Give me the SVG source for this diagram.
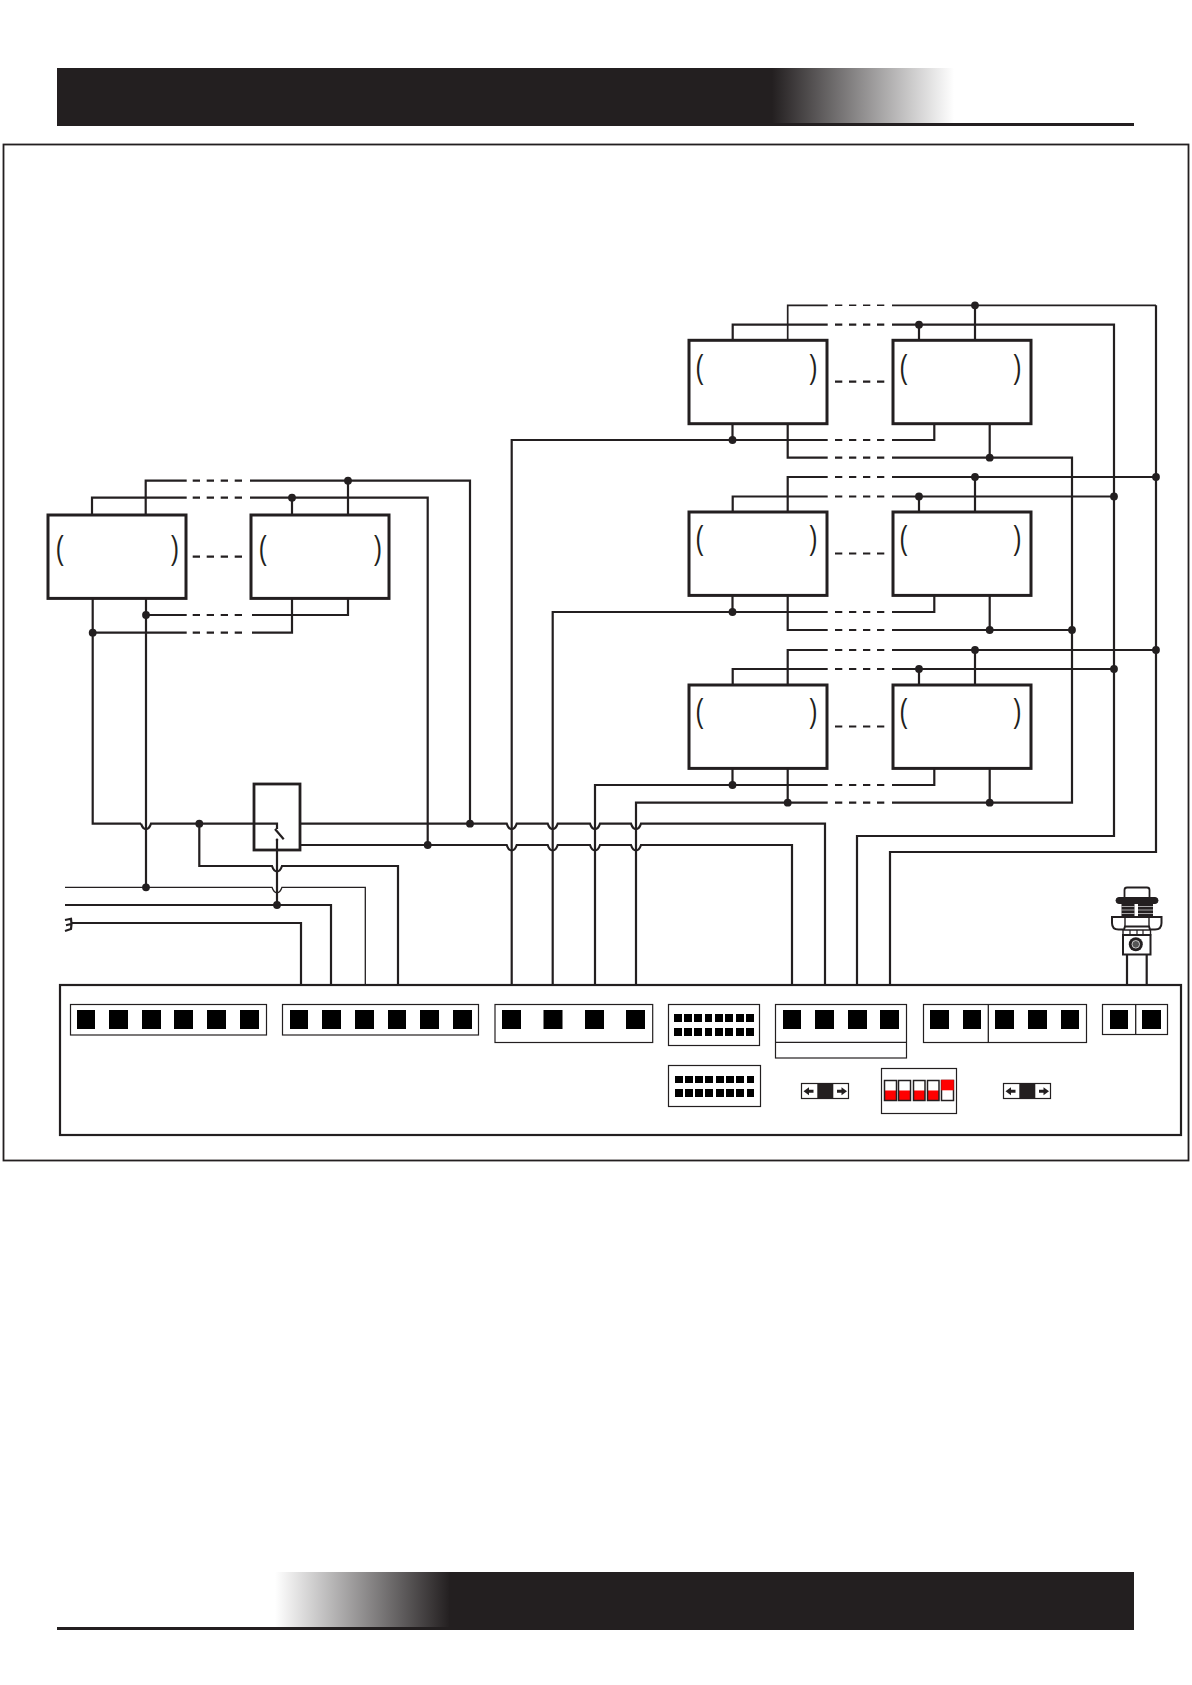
<svg xmlns="http://www.w3.org/2000/svg" width="1192" height="1685" viewBox="0 0 1192 1685">
<style>
.w{fill:none;stroke:#231f20;stroke-width:2.2}
.t{fill:none;stroke:#231f20;stroke-width:1.3}
.m{fill:none;stroke:#231f20;stroke-width:1.7}
.d{fill:none;stroke:#231f20;stroke-width:2.2;stroke-dasharray:7.3 6.7}
.dt{fill:none;stroke:#231f20;stroke-width:1.5;stroke-dasharray:7.3 6.7}
.j{fill:#231f20}
.box{fill:#fff;stroke:#231f20;stroke-width:3}
.blk{fill:#fff;stroke:#231f20;stroke-width:1.2}
.sq{fill:#000}
.p{font-family:"Liberation Sans",Arial,sans-serif;font-size:34px;fill:#231f20}
.red{fill:#ff0000}
.dip{fill:none;stroke:#231f20;stroke-width:1.500}
</style>
<defs>
<linearGradient id="g1" x1="0" x2="1" y1="0" y2="0"><stop offset="0" stop-color="#231f20"/><stop offset="1" stop-color="#fff"/></linearGradient>
<linearGradient id="g2" x1="0" x2="1" y1="0" y2="0"><stop offset="0" stop-color="#fff"/><stop offset="1" stop-color="#231f20"/></linearGradient>
<circle id="dot" r="3.900" class="j"/>
<g id="modA">
<rect x="0" y="0" width="138" height="83.400" class="box"/>
<text class="p" transform="translate(6.500 37.200) scale(.7 1)">(</text>
<text class="p" transform="translate(120.500 37.200) scale(.7 1)">)</text>
</g>
<g id="modB">
<rect x="0" y="0" width="138" height="83.400" class="box"/>
<text class="p" transform="translate(7.800 43.500) scale(.7 1)">(</text>
<text class="p" transform="translate(123 43.500) scale(.7 1)">)</text>
</g>
<g id="arrows">
<path class="j" d="M2 7.700L7.500 3.700V6.200H12V9.200H7.500V11.700Z"/>
<path class="j" d="M45.500 7.700L40 3.700V6.200H35.500V9.200H40V11.700Z"/>
</g>
</defs>
<rect width="1192" height="1685" fill="#fff"/>
<g id="header">
<rect x="57" y="68" width="716" height="58" fill="#231f20"/>
<rect x="772" y="68" width="182" height="55" fill="url(#g1)"/>
<rect x="772" y="123" width="362" height="3" fill="#231f20"/>
</g>
<g id="footer">
<rect x="275" y="1572" width="175" height="55" fill="url(#g2)"/>
<rect x="57" y="1627" width="393" height="3" fill="#231f20"/>
<rect x="449" y="1572" width="685" height="58" fill="#231f20"/>
</g>
<rect id="frame" x="3.500" y="144.500" width="1185" height="1016" fill="none" stroke="#231f20" stroke-width="1.800"/>
<g id="connectors">
<!-- left group -->
<path class="w" d="M145.700 515V480.700H186.700M250 480.700H470V823.700M348 480.700V515"/>
<path class="w" d="M92 515V497.700H186.700M250 497.700H427.700V845M292 497.700V515"/>
<path class="w" d="M146 598V887.300M146 615H186.700M252 615H348V598"/>
<path class="w" d="M92.700 598V823.700H141M92.700 632.700H186.700M252 632.700H292V598"/>
<path class="d" d="M192.700 480.700H244M192.700 497.700H244M192.700 556.700H244M192.700 615H244M192.700 632.700H244"/>
<!-- switch feed -->
<path class="w" d="M141 823.700c1 3 3 5.500 5 5.500s4-2.500 5-5.500H277V829M277 840V905"/>
<path class="w" d="M275 829L283.700 839.300"/>
<path class="w" d="M199.300 823.700V866H272c1 3 3 5.500 5 5.500s4-2.500 5-5.500H398V985"/>
<path class="t" d="M65 887.300H272c1 3 3 5.500 5 5.500s4-2.500 5-5.500H365.300V985"/>
<path class="w" d="M65 905H331V985"/>
<path class="w" d="M71.500 923H301V985"/>
<path class="w" d="M65 920L71 918.700Q72 924 71 929L65 931M66 925.300L71 924"/>
<!-- main bus -->
<path class="w" d="M300 823.700H506.700c1 3 3 5.500 5 5.500s4-2.500 5-5.500H547.700c1 3 3 5.500 5 5.500s4-2.500 5-5.500H590c1 3 3 5.500 5 5.500s4-2.500 5-5.500H631c1 3 3 5.500 5 5.500s4-2.500 5-5.500H825V985"/>
<path class="w" d="M300 845H506.700c1 3 3 5.500 5 5.500s4-2.500 5-5.500H547.700c1 3 3 5.500 5 5.500s4-2.500 5-5.500H590c1 3 3 5.500 5 5.500s4-2.500 5-5.500H631c1 3 3 5.500 5 5.500s4-2.500 5-5.500H792V985"/>
<path class="w" d="M511.700 985V440H827.700M892 440H934.300V424"/>
<path class="w" d="M552.700 985V612H827.700M892 612H934.300V596"/>
<path class="w" d="M595 985V785H827.700M892 785H934.300V769"/>
<path class="w" d="M636 985V802.700H827.700M892 802.700H1072V457.700H892M827.700 457.700H787.700V424"/>
<path class="w" d="M787.700 596V630H827.700M892 630H1072"/>
<path class="w" d="M787.700 769V802.700"/>
<path class="w" d="M732.500 424V440M732.500 596V612M732.500 769V785"/>
<path class="w" d="M989.700 424V457.700M989.700 596V630M989.700 769V802.700"/>
<!-- top pairs -->
<path class="m" d="M787.700 340V305.300H827.700M892 305.300H1156"/>
<path class="w" d="M1156 305.300V852H890V985"/>
<path class="w" d="M732.700 340V324.700H827.700M892 324.700H1114V836H857V985"/>
<path class="w" d="M975 340V305.300M919 340V324.700"/>
<path class="w" d="M787.700 512V477H827.700M892 477H1156"/>
<path class="w" d="M732.700 512V496.500H827.700M892 496.500H1114"/>
<path class="w" d="M975 512V477M919 512V496.500"/>
<path class="w" d="M787.700 685V650H827.700M892 650H1156"/>
<path class="w" d="M732.700 685V669H827.700M892 669H1114"/>
<path class="w" d="M975 685V650M919 685V669"/>
<path class="dt" d="M835 305.300H885"/>
<path class="d" d="M835 324.700H885M835 381.700H885M835 440H885M835 457.700H885M835 477H885M835 496.500H885M835 553.500H885M835 612H885M835 630H885M835 650H885M835 669H885M835 726.500H885M835 785H885M835 802.700H885"/>
<!-- sensor leads -->
<path class="w" d="M1127 954V985M1146.700 954V985"/>
<!-- junctions -->
<use href="#dot" x="348" y="480.700"/><use href="#dot" x="292" y="497.700"/>
<use href="#dot" x="146" y="615"/><use href="#dot" x="92.700" y="632.700"/>
<use href="#dot" x="199.300" y="823.700"/><use href="#dot" x="146" y="887.300"/><use href="#dot" x="277" y="905"/>
<use href="#dot" x="427.700" y="845"/><use href="#dot" x="470" y="823.700"/>
<use href="#dot" x="975" y="305.300"/><use href="#dot" x="919" y="324.700"/>
<use href="#dot" x="732.500" y="440"/><use href="#dot" x="989.700" y="457.700"/>
<use href="#dot" x="975" y="477"/><use href="#dot" x="919" y="496.500"/><use href="#dot" x="1156" y="477"/><use href="#dot" x="1114" y="496.500"/>
<use href="#dot" x="732.500" y="612"/><use href="#dot" x="989.700" y="630"/><use href="#dot" x="1072" y="630"/>
<use href="#dot" x="975" y="650"/><use href="#dot" x="919" y="669"/><use href="#dot" x="1156" y="650"/><use href="#dot" x="1114" y="669"/>
<use href="#dot" x="732.500" y="785"/><use href="#dot" x="787.700" y="802.700"/><use href="#dot" x="989.700" y="802.700"/>
<circle cx="277" cy="839.700" r="1.300" class="j"/>
</g>
<use id="node-b1" href="#modB" x="48" y="515"/>
<use id="node-b2" href="#modB" x="251" y="515"/>
<use id="node-a1" href="#modA" x="689" y="340.300"/>
<use id="node-a2" href="#modA" x="893" y="340.300"/>
<use id="node-c1" href="#modA" x="689" y="512"/>
<use id="node-c2" href="#modA" x="893" y="512"/>
<use id="node-d1" href="#modA" x="689" y="685"/>
<use id="node-d2" href="#modA" x="893" y="685"/>
<g id="switch">
<rect x="254" y="784" width="46" height="66" fill="none" stroke="#231f20" stroke-width="2.800"/>
</g>
<g id="sensor" fill="#fff" stroke="#231f20">
<path d="M1124.500 898V890Q1124.500 887.500 1127 887.500H1147Q1149.500 887.500 1149.500 890V898" stroke-width="1.800"/>
<rect x="1116" y="897.500" width="42" height="6" rx="3" fill="#231f20"/>
<path d="M1121.500 903H1134.500V917H1121.500ZM1138 903H1153V917H1138Z" fill="#231f20" stroke="none"/>
<path d="M1121.500 906.500H1134.500M1121.500 910H1134.500M1121.500 913.500H1134.500M1138 906.500H1153M1138 910H1153M1138 913.500H1153" stroke="#fff" stroke-width=".6"/>
<path d="M1112 917H1161.500V923Q1161.500 929.500 1155 929.500H1150L1149 926.500H1125L1124 929.500H1118.500Q1112 929.500 1112 923Z" stroke-width="2"/>
<path d="M1125 917V927M1149 917V927" stroke-width="1.400"/>
<path d="M1123 930H1150.500V935H1123Z" stroke-width="1.400"/>
<path d="M1130 930V935M1137 930V935M1143 930V935" stroke-width="1.200"/>
<rect x="1123" y="935" width="27.500" height="19.500" stroke-width="2"/>
<circle cx="1135.800" cy="944.300" r="7" fill="#231f20" stroke="none"/>
<circle cx="1135.800" cy="944.300" r="3.800" fill="#555" stroke="#fff" stroke-width=".7"/>
</g>
<g id="board">
<rect x="60" y="985" width="1121" height="150" fill="#fff" stroke="#231f20" stroke-width="2.200"/>
</g>
<g id="terminal-1">
<rect class="blk" x="70.500" y="1004.500" width="196" height="30.500"/>
<path class="sq" d="M77 1010h18v19h-18zM109 1010h19v19h-19zM142 1010h19v19h-19zM174 1010h19v19h-19zM207 1010h19v19h-19zM240 1010h19v19h-19z"/>
</g>
<g id="terminal-2">
<rect class="blk" x="282.500" y="1004.500" width="196" height="30.500"/>
<path class="sq" d="M290 1010h18v19h-18zM322 1010h19v19h-19zM355 1010h19v19h-19zM388 1010h18v19h-18zM420 1010h19v19h-19zM453 1010h19v19h-19z"/>
</g>
<g id="terminal-3">
<rect class="blk" x="495" y="1004.500" width="157.700" height="38"/>
<path class="sq" d="M502 1010h19v19h-19zM543.500 1010h19v19h-19zM585 1010h19v19h-19zM626 1010h19v19h-19z"/>
</g>
<g id="connector-1">
<rect class="blk" x="668.500" y="1004.500" width="91" height="41"/>
<path class="sq" d="M674 1014h8v8h-8zM684 1014h8v8h-8zM694 1014h8v8h-8zM705 1014h7v8h-7zM715 1014h8v8h-8zM725 1014h8v8h-8zM736 1014h8v8h-8zM746 1014h8v8h-8zM674 1028h8v8h-8zM684 1028h8v8h-8zM694 1028h8v8h-8zM705 1028h7v8h-7zM715 1028h8v8h-8zM725 1028h8v8h-8zM736 1028h8v8h-8zM746 1028h8v8h-8z"/>
</g>
<g id="terminal-4">
<rect class="blk" x="775.500" y="1004.500" width="131" height="53.500"/>
<path class="t" d="M775.500 1042.300H906.500"/>
<path class="sq" d="M783 1010h18v19h-18zM815 1010h19v19h-19zM848 1010h19v19h-19zM880 1010h19v19h-19z"/>
</g>
<g id="terminal-5">
<rect class="blk" x="923.500" y="1004.500" width="163" height="38"/>
<path class="t" d="M988.300 1004.500V1042.500"/>
<path class="sq" d="M930 1010h19v19h-19zM963 1010h18v19h-18zM995 1010h19v19h-19zM1028 1010h19v19h-19zM1061 1010h18v19h-18z"/>
</g>
<g id="terminal-6">
<rect class="blk" x="1102.500" y="1004.500" width="65" height="30"/>
<path class="t" d="M1135.700 1004.500V1034.500"/>
<path class="sq" d="M1110 1010h18v19h-18zM1142 1010h19v19h-19z"/>
</g>
<g id="connector-2">
<rect class="blk" x="668.500" y="1065.500" width="92" height="41"/>
<path class="sq" d="M675 1076h8v7h-8zM685 1076h8v7h-8zM695 1076h8v7h-8zM705 1076h8v7h-8zM716 1076h8v7h-8zM726 1076h8v7h-8zM736 1076h8v7h-8zM747 1076h7v7h-7zM675 1089h8v8h-8zM685 1089h8v8h-8zM695 1089h8v8h-8zM705 1089h8v8h-8zM716 1089h8v8h-8zM726 1089h8v8h-8zM736 1089h8v8h-8zM747 1089h7v8h-7z"/>
</g>
<g id="slide-1">
<rect class="blk" x="801.500" y="1083.500" width="47" height="15"/>
<rect x="817.300" y="1083.500" width="16" height="15" fill="#231f20"/>
<use href="#arrows" x="801.500" y="1083.500"/>
</g>
<g id="slide-2">
<rect class="blk" x="1003.500" y="1083.500" width="47" height="15"/>
<rect x="1019.300" y="1083.500" width="16" height="15" fill="#231f20"/>
<use href="#arrows" x="1003.500" y="1083.500"/>
</g>
<g id="dip">
<rect class="blk" x="881.500" y="1068.500" width="75" height="45"/>
<rect class="red" x="884.500" y="1090.500" width="12" height="10"/><rect class="dip" x="884.500" y="1080.500" width="12" height="20"/>
<rect class="red" x="898.500" y="1090.500" width="12" height="10"/><rect class="dip" x="898.500" y="1080.500" width="12" height="20"/>
<rect class="red" x="913.500" y="1090.500" width="11.500" height="10"/><rect class="dip" x="913.500" y="1080.500" width="11.500" height="20"/>
<rect class="red" x="927.500" y="1090.500" width="11.500" height="10"/><rect class="dip" x="927.500" y="1080.500" width="11.500" height="20"/>
<rect class="dip" x="941.500" y="1080.500" width="12" height="20"/><rect class="red" x="941.200" y="1079.800" width="12.600" height="10.500"/>
</g>
</svg>
